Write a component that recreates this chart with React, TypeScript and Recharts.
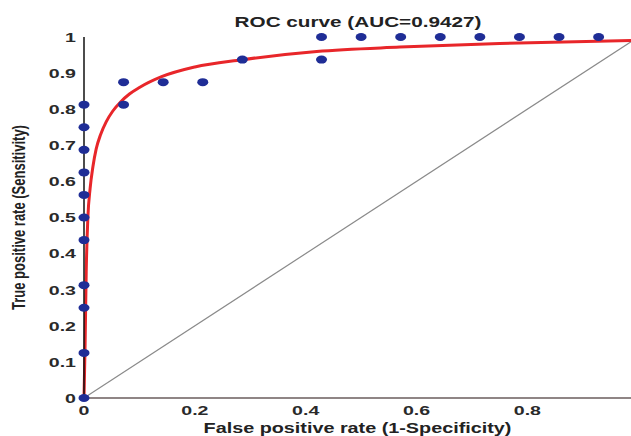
import { ComposedChart, Line, Scatter, XAxis, YAxis, Label } from 'recharts'

// observed operating points (fpr, tpr)
const pointFpr = [
  0, 0, 0, 0, 0, 0, 0, 0, 0, 0, 0,
  1 / 14, 1 / 14, 2 / 14, 3 / 14, 4 / 14, 6 / 14,
  6 / 14, 7 / 14, 8 / 14, 9 / 14, 10 / 14, 11 / 14, 12 / 14, 13 / 14,
]
const pointTpr = [
  0, 0.125, 0.25, 0.3125, 0.4375, 0.5, 0.5625, 0.625, 0.6875, 0.75, 0.8125,
  0.8125, 0.875, 0.875, 0.875, 0.9375, 0.9375,
  1, 1, 1, 1, 1, 1, 1, 1,
]

// fitted curve
const curveFpr = [0, 0.002, 0.004, 0.007, 0.011, 0.016, 0.022, 0.03, 0.04, 0.052, 0.066, 0.082, 0.1, 0.14, 0.2, 0.285, 0.42, 0.57, 0.75, 0.987]
const curveTpr = [0, 0.15, 0.35, 0.5, 0.58, 0.64, 0.69, 0.73, 0.765, 0.795, 0.82, 0.842, 0.86, 0.89, 0.917, 0.937, 0.96, 0.972, 0.982, 0.99]

const diagFpr = [0, 0.987]
const diagTpr = [0, 0.987]

const xTicks = [0, 0.2, 0.4, 0.6, 0.8]
const yTicks = [0, 0.1, 0.2, 0.3, 0.4, 0.5, 0.6, 0.7, 0.8, 0.9, 1]

const points = pointFpr.map((fpr, i) => ({ fpr, tpr: pointTpr[i] }))
const curve = curveFpr.map((fpr, i) => ({ fpr, tpr: curveTpr[i] }))
const diag = diagFpr.map((fpr, i) => ({ fpr, tpr: diagTpr[i] }))

const FONT = '"Liberation Sans", Arial, sans-serif'
const SX = 1.45 // the source picture is stretched horizontally

const YTick = ({ x, y, payload }: any) => (
  <text
    transform={`translate(${x},${y}) scale(${SX},1)`}
    textAnchor="end"
    dy="0.36em"
    fontFamily={FONT}
    fontSize={13.5}
    fontWeight="bold"
    fill="#2a2a2a"
  >
    {payload.value}
  </text>
)

const XTick = ({ x, y, payload }: any) => (
  <text
    transform={`translate(${x},${y}) scale(${SX},1)`}
    textAnchor="middle"
    dy="0.71em"
    fontFamily={FONT}
    fontSize={13.5}
    fontWeight="bold"
    fill="#2a2a2a"
  >
    {payload.value}
  </text>
)

const Dot = (props: any) => <ellipse cx={props.cx} cy={props.cy} rx={5.5} ry={4} fill="#1f2d96" />

export default function App() {
  return (
    <div style={{ position: 'absolute', left: 0, top: 0, width: 631, height: 436, background: '#fff' }}>
      <div
        style={{
          position: 'absolute',
          left: 358,
          top: 14,
          transform: `translateX(-50%) scale(1.38,1)`,
          fontFamily: FONT,
          fontSize: 15,
          lineHeight: '15px',
          fontWeight: 'bold',
          color: '#222',
          whiteSpace: 'nowrap',
        }}
      >
        ROC curve (AUC=0.9427)
      </div>
      <ComposedChart width={631} height={436} margin={{ top: 37, right: 0, bottom: 0, left: 0 }}>
        <XAxis
          type="number"
          dataKey="fpr"
          domain={[0, 0.987]}
          ticks={xTicks}
          tick={<XTick />}
          tickLine={false}
          tickSize={0}
          tickMargin={7}
          height={38}
          axisLine={{ stroke: '#8f8585', strokeWidth: 2 }}
        >
          <Label
            content={({ viewBox }: any) => (
              <text
                transform={`translate(${viewBox.x + viewBox.width / 2},${viewBox.y + 35}) scale(1.32,1)`}
                textAnchor="middle"
                fontFamily={FONT}
                fontSize={15}
                fontWeight="bold"
                fill="#222"
              >
                False positive rate (1-Specificity)
              </text>
            )}
          />
        </XAxis>
        <YAxis
          type="number"
          dataKey="tpr"
          domain={[0, 1]}
          ticks={yTicks}
          tick={<YTick />}
          tickLine={false}
          tickSize={0}
          tickMargin={8}
          width={84}
          axisLine={{ stroke: '#111', strokeWidth: 1.5 }}
        >
          <Label
            content={({ viewBox }: any) => (
              <text
                transform={`translate(25,${viewBox.y + viewBox.height / 2}) scale(1.35,1) rotate(-90)`}
                textAnchor="middle"
                fontFamily={FONT}
                fontSize={13}
                fontWeight="bold"
                fill="#222"
              >
                True positive rate (Sensitivity)
              </text>
            )}
          />
        </YAxis>
        <Line
          data={diag}
          dataKey="tpr"
          type="linear"
          stroke="#8a8a8a"
          strokeWidth={1.2}
          dot={false}
          isAnimationActive={false}
        />
        <Line
          data={curve}
          dataKey="tpr"
          type="monotone"
          stroke="#e8262a"
          strokeWidth={3}
          dot={false}
          isAnimationActive={false}
        />
        <Scatter data={points} dataKey="tpr" shape={<Dot />} isAnimationActive={false} />
      </ComposedChart>
    </div>
  )
}
